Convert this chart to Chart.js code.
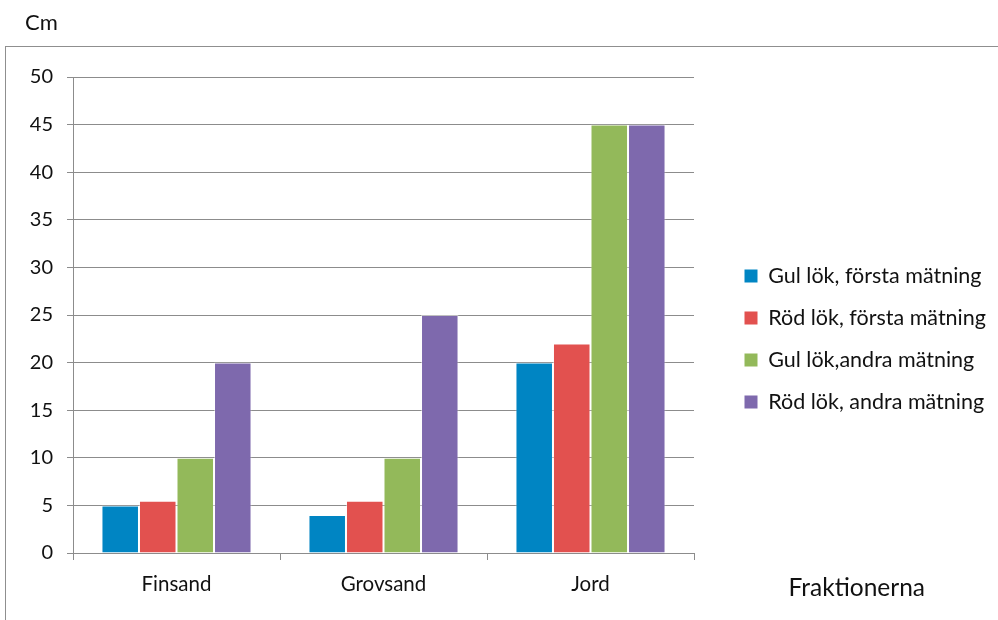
<!DOCTYPE html>
<html><head><meta charset="utf-8">
<script src="https://cdn.jsdelivr.net/npm/chart.js@4.4.0/dist/chart.umd.min.js"></script>
<style>html,body{margin:0;padding:0;background:#fff}</style>
</head><body>
<canvas id="c" width="998" height="620"></canvas>
<script>
// ---- data ----
const categories = ['Finsand', 'Grovsand', 'Jord'];
const seriesNames = ['Gul lök, första mätning', 'Röd lök, första mätning', 'Gul lök,andra mätning', 'Röd lök, andra mätning'];
const gulForsta = [5, 4, 20];
const rodForsta = [5.5, 5.5, 22];
const gulAndra = [10, 10, 45];
const rodAndra = [20, 25, 45];
const yMin = 0, yMax = 50, yStep = 5;
const yTitle = 'Cm';
const xTitle = 'Fraktionerna';

// ---- styles ----
const colors = ['#0085C3', '#E2514F', '#93B95A', '#7E69AD'];
const FONT = 'Lato';
const GRID = '#8c8c8c';
const TXT = '#111';

const frame = {
  id: 'frame',
  beforeDraw(chart) {
    const ctx = chart.ctx;
    ctx.save();
    ctx.strokeStyle = '#8f8f8f';
    ctx.lineWidth = 1;
    ctx.strokeRect(5.5, 46.5, 1100, 1000);
    ctx.restore();
  }
};
const legendPlace = {
  id: 'legendPlace',
  afterLayout(chart) {
    const lg = chart.legend;
    const P = lg.options.labels.padding;
    lg.left = 744.5 - P; lg.right = chart.width; lg.width = lg.right - lg.left;
    lg.top = 265.25 - P; lg.bottom = lg.top + 330; lg.height = 330;
  }
};

const values = [gulForsta, rodForsta, gulAndra, rodAndra];
new Chart(document.getElementById('c'), {
  type: 'bar',
  data: {
    labels: categories,
    datasets: values.map((v, i) => ({
      label: seriesNames[i],
      data: v,
      backgroundColor: colors[i],
      borderColor: 'rgba(255,255,255,0.45)',
      borderWidth: 1,
      categoryPercentage: 0.725,
      barPercentage: 1.0
    }))
  },
  options: {
    responsive: false,
    animation: false,
    layout: { padding: { left: 25, right: 73, top: 0, bottom: 0 } },
    scales: {
      x: {
        grid: { display: true, drawOnChartArea: false, drawTicks: true, tickLength: 7, color: GRID, offset: true },
        border: { display: true, color: GRID, width: 1 },
        ticks: { color: TXT, font: { family: FONT, size: 20.5 }, padding: 12.5 },
        afterFit(s) { s.height = 45; }
      },
      y: {
        min: yMin, max: yMax,
        grid: { color: GRID, tickLength: 6, drawTicks: true },
        border: { display: true, color: GRID, width: 1 },
        ticks: { stepSize: yStep, color: TXT, font: { family: FONT, size: 20 }, padding: 14 },
        afterFit(s) { s.width = 48; }
      }
    },
    plugins: {
      title: { display: true, text: yTitle, align: 'start', color: TXT,
        font: { family: FONT, size: 22, weight: 'normal' }, padding: { top: 9.8, bottom: 40.8 } },
      subtitle: { display: true, text: xTitle, position: 'bottom', align: 'end', color: TXT,
        font: { family: FONT, size: 24.5, weight: 'normal' }, padding: { top: -24.7, bottom: 17.3 } },
      legend: {
        position: 'right', align: 'start', maxWidth: 231,
        labels: {
          boxWidth: 13, boxHeight: 13, padding: 20.5, color: TXT,
          font: { family: FONT, size: 21.5 },
          generateLabels(chart) {
            return Chart.defaults.plugins.legend.labels.generateLabels(chart).map(l => Object.assign(l, { lineWidth: 0 }));
          }
        }
      },
      tooltip: { enabled: false }
    }
  },
  plugins: [frame, legendPlace]
});
</script>
</body></html>
